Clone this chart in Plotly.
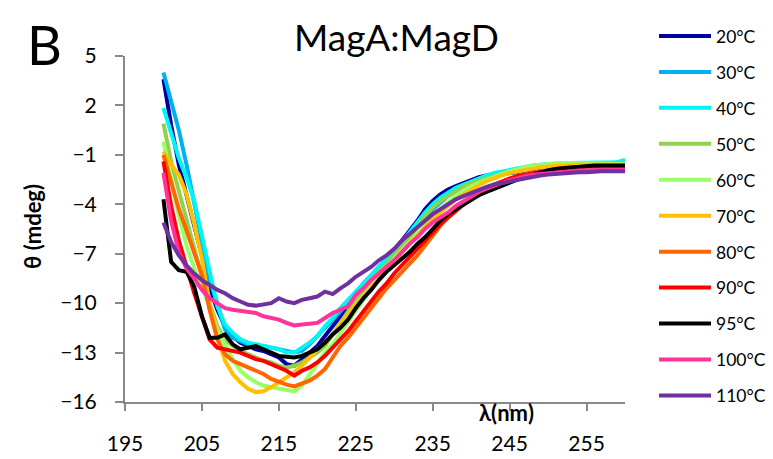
import plotly.graph_objects as go

# wavelength grid (nm)
wavelength = list(range(200, 261))

temps = ["20°C", "30°C", "40°C", "50°C", "60°C", "70°C", "80°C", "90°C", "95°C", "100°C", "110°C"]
colors = ["#0000A0", "#00B0F0", "#00F5F5", "#92D050", "#99FF66", "#FFC000",
          "#FF6600", "#FF0000", "#000000", "#FF3399", "#7030A0"]

t20 = [3.6, 0.8, -1.6, -3.5, -5.4, -7.3, -9.0, -10.4, -11.4, -12.0, -12.4, -12.6, -12.8, -12.9, -13.1, -13.3,
       -13.7, -13.8, -13.4, -13.0, -12.6, -12.0, -11.4, -10.8, -10.2, -9.6, -9.0, -8.4, -7.9, -7.3, -6.8, -6.2,
       -5.6, -5.0, -4.3, -3.8, -3.4, -3.1, -2.9, -2.7, -2.5, -2.35, -2.25, -2.2, -2.2, -2.15, -2.05, -1.95, -1.85,
       -1.8, -1.7, -1.65, -1.6, -1.6, -1.55, -1.55, -1.55, -1.5, -1.5, -1.5, -1.5]
t30 = [4.0, 2.3, 0.5, -1.6, -3.9, -6.3, -8.6, -10.0, -11.6, -12.1, -12.3, -12.5, -12.6, -12.6, -12.7, -12.8,
       -12.9, -13.0, -12.9, -12.5, -12.0, -11.5, -11.0, -10.5, -9.9, -9.4, -8.8, -8.3, -7.8, -7.3, -6.8, -6.3,
       -5.8, -5.3, -4.8, -4.3, -3.9, -3.5, -3.2, -2.9, -2.7, -2.5, -2.35, -2.25, -2.15, -2.05, -1.95, -1.85, -1.8,
       -1.75, -1.7, -1.65, -1.6, -1.6, -1.55, -1.55, -1.5, -1.5, -1.5, -1.5, -1.45]
t40 = [1.85, 0.3, -1.2, -2.4, -3.8, -5.9, -8.1, -10.2, -11.3, -11.8, -12.2, -12.4, -12.5, -12.6, -12.7, -12.8,
       -13.0, -13.0, -12.7, -12.4, -12.0, -11.4, -10.9, -10.3, -9.8, -9.3, -8.8, -8.3, -7.8, -7.3, -6.8, -6.3,
       -5.7, -5.1, -4.5, -4.0, -3.6, -3.3, -3.0, -2.8, -2.6, -2.4, -2.25, -2.1, -2.0, -1.9, -1.8, -1.7, -1.65,
       -1.6, -1.55, -1.5, -1.5, -1.5, -1.5, -1.5, -1.5, -1.5, -1.5, -1.45, -1.3]
t50 = [0.9, -1.4, -3.2, -5.0, -6.7, -8.4, -10.0, -11.4, -12.2, -12.6, -12.9, -13.1, -13.3, -13.5, -13.6, -13.8,
       -13.9, -13.8, -13.6, -13.3, -13.0, -12.6, -11.9, -11.1, -10.4, -9.8, -9.2, -8.6, -8.1, -7.6, -7.1, -6.6,
       -6.0, -5.4, -4.7, -4.2, -3.8, -3.5, -3.2, -2.9, -2.7, -2.55, -2.4, -2.25, -2.1, -2.0, -1.9, -1.8, -1.75,
       -1.7, -1.65, -1.6, -1.6, -1.55, -1.55, -1.55, -1.55, -1.55, -1.6, -1.6, -1.6]
t60 = [-0.2, -2.6, -4.7, -6.5, -7.9, -9.0, -10.2, -11.6, -12.5, -13.4, -14.1, -14.5, -14.8, -15.0, -15.1, -15.2,
       -15.3, -15.35, -15.0, -14.3, -13.6, -13.0, -12.5, -11.8, -11.1, -10.4, -9.7, -9.1, -8.5, -7.9, -7.3, -6.8,
       -6.3, -5.8, -5.3, -4.8, -4.3, -3.9, -3.5, -3.2, -2.9, -2.7, -2.5, -2.3, -2.15, -2.0, -1.85, -1.75, -1.65,
       -1.6, -1.55, -1.5, -1.5, -1.5, -1.5, -1.55, -1.55, -1.55, -1.55, -1.55, -1.55]
t70 = [-0.8, -1.6, -2.2, -3.4, -5.2, -7.3, -10.0, -12.0, -13.5, -14.3, -14.8, -15.2, -15.4, -15.35, -15.1, -14.8,
       -14.5, -14.2, -13.8, -13.3, -12.8, -12.4, -11.9, -11.3, -10.7, -10.1, -9.6, -9.0, -8.5, -8.0, -7.4, -6.9,
       -6.4, -5.9, -5.4, -4.9, -4.5, -4.1, -3.7, -3.4, -3.1, -2.85, -2.6, -2.4, -2.25, -2.1, -2.0, -1.9, -1.8,
       -1.75, -1.7, -1.65, -1.6, -1.6, -1.6, -1.6, -1.6, -1.6, -1.6, -1.6, -1.6]
t80 = [-1.0, -2.7, -4.3, -5.6, -7.0, -8.3, -10.4, -12.2, -13.1, -13.5, -13.7, -13.9, -14.1, -14.3, -14.6, -14.8,
       -14.95, -15.05, -14.9, -14.7, -14.4, -14.0, -13.3, -12.6, -12.1, -11.5, -10.9, -10.3, -9.7, -9.1, -8.6, -8.1,
       -7.6, -7.1, -6.5, -5.9, -5.3, -4.8, -4.4, -4.0, -3.6, -3.3, -3.0, -2.8, -2.6, -2.45, -2.3, -2.2, -2.1,
       -2.0, -1.9, -1.85, -1.8, -1.75, -1.7, -1.7, -1.7, -1.7, -1.7, -1.7, -1.7]
t90 = [-1.4, -4.1, -6.2, -7.9, -9.4, -10.8, -12.2, -12.7, -12.8, -12.9, -13.0, -13.2, -13.4, -13.5, -13.7, -13.9,
       -14.1, -14.4, -14.1, -13.9, -13.6, -13.2, -12.7, -12.2, -11.7, -11.1, -10.5, -9.9, -9.3, -8.8, -8.2, -7.7,
       -7.2, -6.7, -6.2, -5.7, -5.2, -4.8, -4.4, -4.0, -3.6, -3.3, -3.0, -2.8, -2.6, -2.45, -2.3, -2.2, -2.1,
       -2.0, -1.9, -1.85, -1.8, -1.75, -1.75, -1.7, -1.7, -1.7, -1.7, -1.7, -1.7]
t95 = [-3.7, -7.5, -8.0, -8.1, -9.0, -10.8, -12.1, -12.1, -11.9, -12.5, -12.8, -12.7, -12.6, -12.8, -13.0, -13.2,
       -13.25, -13.3, -13.2, -13.0, -12.8, -12.4, -11.9, -11.5, -11.0, -10.3, -9.7, -9.2, -8.6, -8.1, -7.7, -7.3,
       -6.9, -6.4, -6.0, -5.5, -5.0, -4.6, -4.3, -4.0, -3.7, -3.45, -3.25, -3.05, -2.85, -2.65, -2.5, -2.35, -2.2,
       -2.05, -1.95, -1.85, -1.8, -1.75, -1.7, -1.7, -1.65, -1.65, -1.65, -1.65, -1.65]
t100 = [-2.1, -5.0, -6.9, -7.9, -8.5, -9.2, -9.7, -10.0, -10.3, -10.4, -10.45, -10.5, -10.6, -10.8, -10.9, -11.0,
        -11.2, -11.35, -11.3, -11.25, -11.2, -10.9, -10.6, -10.4, -10.2, -9.5, -9.1, -8.6, -8.2, -7.8, -7.4, -6.9,
        -6.4, -6.0, -5.5, -5.1, -4.8, -4.5, -4.1, -3.8, -3.5, -3.25, -3.05, -2.85, -2.7, -2.55, -2.4, -2.3, -2.2,
        -2.15, -2.1, -2.05, -2.0, -2.0, -1.95, -1.95, -1.9, -1.9, -1.9, -1.9, -1.9]
t110 = [-5.1, -6.3, -7.1, -7.7, -8.2, -8.6, -8.9, -9.2, -9.4, -9.7, -9.9, -10.1, -10.15, -10.1, -10.0, -9.7,
        -9.9, -10.0, -9.8, -9.7, -9.6, -9.3, -9.45, -9.1, -8.8, -8.4, -8.1, -7.8, -7.4, -7.1, -6.7, -6.2,
        -5.8, -5.4, -5.0, -4.6, -4.3, -4.0, -3.7, -3.5, -3.3, -3.1, -2.95, -2.8, -2.7, -2.6, -2.5, -2.4, -2.3,
        -2.25, -2.2, -2.15, -2.1, -2.1, -2.05, -2.05, -2.0, -2.0, -2.0, -2.0, -2.0]

series = [t20, t30, t40, t50, t60, t70, t80, t90, t95, t100, t110]

FONT = "Lato"

fig = go.Figure()
for name, color, vals in zip(temps, colors, series):
    fig.add_trace(go.Scatter(x=wavelength, y=vals, mode="lines", name=name,
                             legendgroup=name,
                             line=dict(color=color, width=4)))

fig.update_layout(
    width=773, height=459,
    margin=dict(l=117, r=156, t=48, b=59),
    plot_bgcolor="white", paper_bgcolor="white",
    font=dict(family=FONT, size=21, color="black"),
    legend=dict(xref="container", yref="container", x=646 / 773, y=0.978,
                xanchor="left", yanchor="top", maxheight=458, itemwidth=52,
                font=dict(family=FONT, size=17.5), tracegroupgap=10.2,
                bgcolor="rgba(0,0,0,0)"),
)
fig.update_xaxes(range=[195, 260], tick0=195, dtick=10, showgrid=False, zeroline=False,
                 showline=True, linecolor="#888888", linewidth=2,
                 ticks="outside", ticklen=7, tickcolor="#888888", tickwidth=2,
                 ticklabelstandoff=15, tickfont=dict(size=21))
fig.update_yaxes(range=[-16, 5], tick0=-16, dtick=3, showgrid=False, zeroline=False,
                 showline=True, linecolor="#888888", linewidth=2,
                 ticks="outside", ticklen=8, tickcolor="#888888", tickwidth=2,
                 ticklabelstandoff=14, tickfont=dict(size=21))

fig.add_annotation(text="B", xref="paper", yref="paper", x=-0.162, y=1.134,
                   showarrow=False, font=dict(size=54, family=FONT), xanchor="center", yanchor="top")
fig.add_annotation(text="MagA:MagD", xref="paper", yref="paper", x=0.542, y=1.055,
                   showarrow=False, font=dict(size=37, family=FONT), xanchor="center", yanchor="middle")
fig.add_annotation(text="<b>λ(nm)</b>", xref="paper", yref="paper", x=0.762, y=-0.031,
                   showarrow=False, font=dict(size=22, family=FONT), xanchor="center", yanchor="middle")
fig.add_annotation(text="<b>θ (mdeg)</b>", xref="paper", yref="paper", x=-0.184, y=0.506,
                   showarrow=False, textangle=-90, font=dict(size=22, family=FONT),
                   xanchor="center", yanchor="middle")

fig.write_html("out.html")
